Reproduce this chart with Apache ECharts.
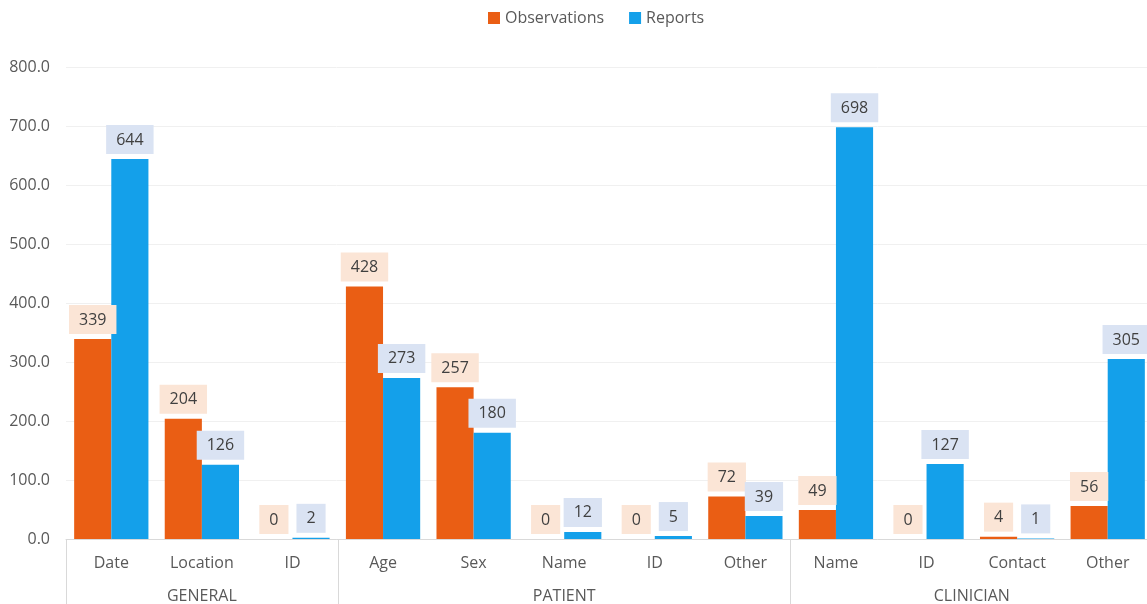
<!DOCTYPE html>
<html>
<head>
<meta charset="utf-8">
<script src="https://cdn.jsdelivr.net/npm/echarts@6/dist/echarts.min.js"></script>
<style>
  html, body { margin: 0; padding: 0; background: #fff; }
  #chart { width: 1147px; height: 604px; }
</style>
</head>
<body>
<div id="chart"></div>
<script>
// Field categories, grouped under three headings
const categories = ['Date', 'Location', 'ID', 'Age', 'Sex', 'Name', 'ID', 'Other', 'Name', 'ID', 'Contact', 'Other'];
const groupNames = ['GENERAL', 'PATIENT', 'CLINICIAN'];
const groupSizes = [3, 5, 4];

// Counts per field
const observations = [339, 204, 0, 428, 257, 0, 0, 72, 49, 0, 4, 56];
const reports = [644, 126, 2, 273, 180, 12, 5, 39, 698, 127, 1, 305];

const yTicks = { min: 0, max: 800, interval: 100 };

// Group boundaries and centres in category units
const boundaries = [0];
groupSizes.forEach(s => boundaries.push(boundaries[boundaries.length - 1] + s));
const centres = groupSizes.map((s, i) => boundaries[i] + s / 2);

const FONT = '"Open Sans", sans-serif';
const ORANGE = '#EA5E14';
const BLUE = '#14A0EA';

function labelStyle(bg) {
  return {
    show: true,
    position: 'top',
    distance: 5,
    color: '#404040',
    fontSize: 16,
    fontFamily: FONT,
    backgroundColor: bg,
    padding: [7, 10, 6, 10]
  };
}

const chart = echarts.init(document.getElementById('chart'), null, { renderer: 'canvas' });
chart.setOption({
  animation: false,
  textStyle: { fontFamily: FONT },
  legend: {
    top: 5,
    left: 483,
    itemWidth: 12,
    itemHeight: 12,
    itemGap: 25,
    icon: 'rect',
    textStyle: { color: '#595959', fontSize: 16, fontFamily: FONT },
    data: ['Observations', 'Reports']
  },
  // the plot runs slightly past the right edge of the canvas
  grid: {
    left: 66, width: 1087, top: 67, bottom: 65,
    containLabel: false,
    outerBoundsMode: 'none'
  },
  xAxis: [
    {
      type: 'category',
      data: categories,
      axisLine: { lineStyle: { color: '#d9d9d9', width: 1 } },
      axisTick: { show: false },
      axisLabel: { color: '#595959', fontSize: 16, fontFamily: FONT, margin: 16, interval: 0 }
    },
    {
      type: 'value',
      position: 'bottom',
      min: 0,
      max: categories.length,
      axisLine: { show: false },
      splitLine: { show: false },
      axisTick: {
        show: true,
        customValues: boundaries,
        length: 70,
        lineStyle: { color: '#d9d9d9', width: 1 }
      },
      axisLabel: {
        customValues: centres,
        margin: 49,
        color: '#595959',
        fontSize: 16,
        fontFamily: FONT,
        formatter: v => {
          const i = centres.indexOf(v);
          return i >= 0 ? groupNames[i] : '';
        }
      }
    }
  ],
  yAxis: {
    type: 'value',
    min: yTicks.min,
    max: yTicks.max,
    interval: yTicks.interval,
    axisLine: { show: false },
    axisTick: { show: false },
    splitLine: { lineStyle: { color: '#f0f0f0', width: 1 } },
    axisLabel: {
      color: '#595959',
      fontSize: 16,
      fontFamily: FONT,
      margin: 16,
      formatter: v => v.toFixed(1)
    }
  },
  series: [
    {
      name: 'Observations',
      type: 'bar',
      xAxisIndex: 0,
      data: observations,
      itemStyle: { color: ORANGE },
      barGap: '0%',
      barCategoryGap: '18%',
      label: labelStyle('#FBE5D6')
    },
    {
      name: 'Reports',
      type: 'bar',
      xAxisIndex: 0,
      data: reports,
      itemStyle: { color: BLUE },
      barGap: '0%',
      barCategoryGap: '18%',
      label: labelStyle('#DAE3F3')
    }
  ]
});
</script>
</body>
</html>
